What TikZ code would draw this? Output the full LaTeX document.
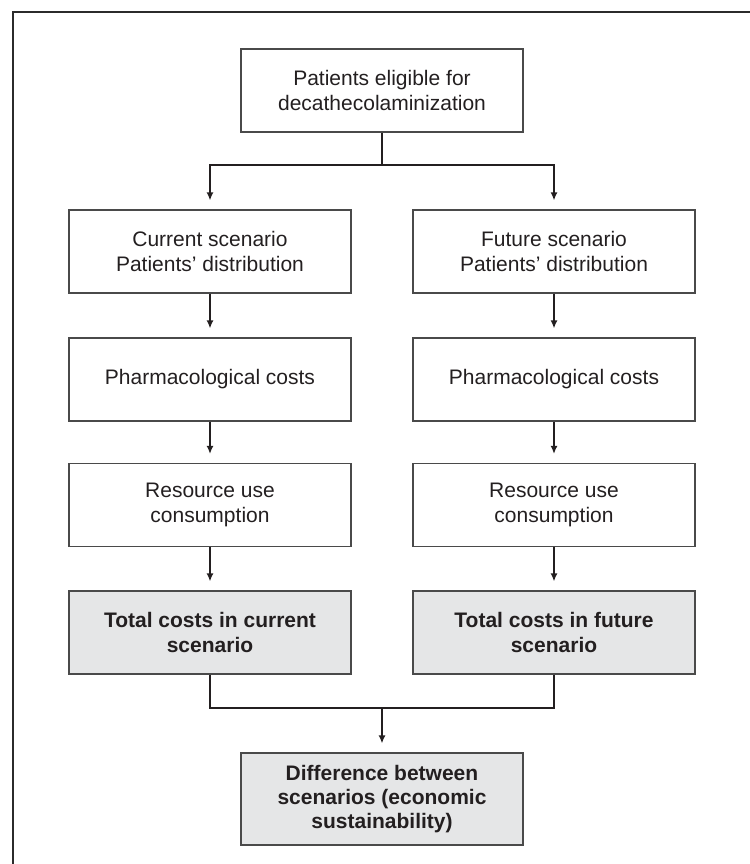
\documentclass[tikz,border=0pt]{standalone}
\usepackage{fontspec}
\setmainfont{Liberation Sans}
\usetikzlibrary{arrows.meta}
\definecolor{boxline}{HTML}{4A4A4A}
\definecolor{grayfill}{HTML}{E5E6E7}
\definecolor{textcol}{HTML}{231F20}
\definecolor{framecol}{HTML}{2B2B2B}
\tikzset{
  box/.style={draw=boxline, line width=1.2pt, minimum width=282pt, minimum height=83pt,
    align=center, inner sep=0pt, text=textcol, font=\fontsize{21}{25}\selectfont},
  graybox/.style={box, fill=grayfill, font=\bfseries\fontsize{21}{25}\selectfont},
  conn/.style={draw=textcol, line width=1.5pt, line join=miter},
  arr/.style={conn, -{Latex[length=8pt,width=7pt]}, shorten >=9pt},
  framestyle/.style={draw=framecol, line width=2.4pt}
}
\begin{document}
\begin{tikzpicture}[x=1pt,y=-1pt]
\useasboundingbox (0,0) rectangle (749,864);
\draw[framestyle] (13,866) -- (13,12) -- (751,12);

\node[box] (top) at (382,90.5) {Patients eligible for\\decathecolaminization};

\node[box] (c1) at (210,251.5) {Current scenario\\Patients’ distribution};
\node[box] (f1) at (554,251.5) {Future scenario\\Patients’ distribution};
\node[box] (c2) at (210,379.5) {Pharmacological costs};
\node[box] (f2) at (554,379.5) {Pharmacological costs};
\node[box] (c3) at (210,505) {Resource use\\consumption};
\node[box] (f3) at (554,505) {Resource use\\consumption};
\node[graybox] (c4) at (210,632.5) {Total costs in current\\scenario};
\node[graybox] (f4) at (554,632.5) {Total costs in future\\scenario};
\node[graybox, minimum height=92pt, font=\bfseries\fontsize{21}{24}\selectfont] (diff) at (382,799)
  {Difference between\\scenarios (economic\\sustainability)};

\coordinate (split) at (382,165);
\coordinate (join) at (382,708);

\draw[conn] (top.south) -- (split);
\draw[arr] (split) -| (c1.north);
\draw[arr] (split) -| (f1.north);
\draw[arr] (c1) -- (c2);
\draw[arr] (f1) -- (f2);
\draw[arr] (c2) -- (c3);
\draw[arr] (f2) -- (f3);
\draw[arr] (c3) -- (c4);
\draw[arr] (f3) -- (f4);
\draw[conn] (c4.south) |- (join) -| (f4.south);
\draw[arr] (join) -- (diff.north);
\end{tikzpicture}
\end{document}
